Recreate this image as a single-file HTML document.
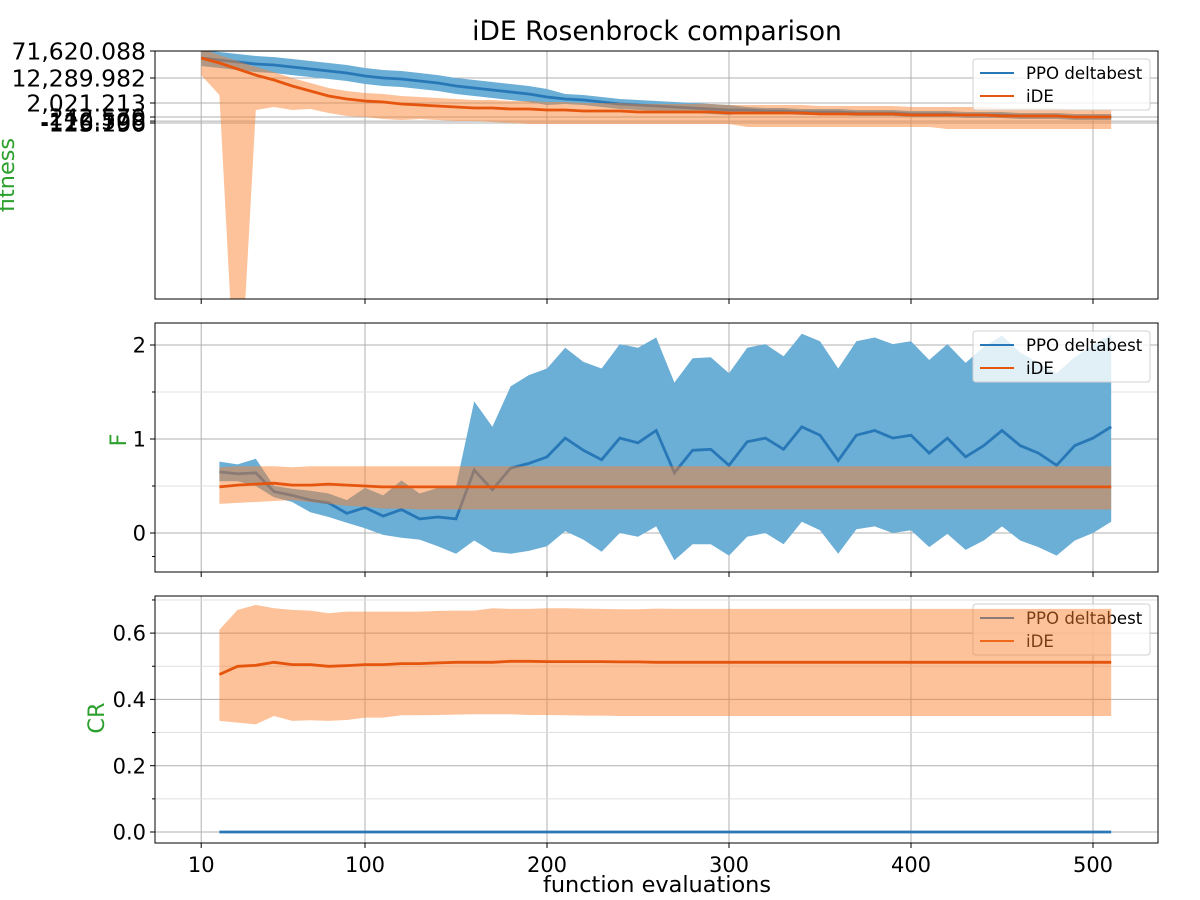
<!DOCTYPE html>
<html><head><meta charset="utf-8">
<style>
body{margin:0;background:#fff;}
svg{display:block;font-family:"DejaVu Sans","Liberation Sans",sans-serif;}
</style></head>
<body>
<svg id="chart" width="1200" height="900" xmlns="http://www.w3.org/2000/svg"></svg>
<script>
// ---------- data ----------
const fitX = [10,20,30,40,50,60,70,80,90,100,110,120,130,140,150,160,170,180,190,200,210,220,230,240,250,260,270,280,290,300,310,320,330,340,350,360,370,380,390,400,410,420,430,440,450,460,470,480,490,500,510];
const paramX = fitX.slice(1);
const fitTickValues = [71620.088,12289.982,2021.213,242.570,-110.598,-125.700,-126.196];
const fitTickLabels = ["71,620.088","12,289.982","2,021.213","242.570","-110.598","-125.700","-126.196"];
const xTicks = [10,100,200,300,400,500];
const fTicks = [0,1,2];
const crTicks = [0.0,0.2,0.4,0.6];

const ppoFitMean = [45300,39800,34900,30600,28700,25200,22100,19400,17000,14000,12290,11400,9900,8570,6900,5970,5170,4480,3870,3120,2700,2510,2170,1740,1490,1280,1100,950,815,700,700,600,600,517,517,517,444,444,444,381,381,381,328,328,328,282,282,282,242,242,242];
const ppoFitHigh = [76000,67100,58800,51600,48300,42400,37200,32700,28700,23600,20700,19400,17000,14900,12290,10600,9200,7980,6900,5560,3870,3600,3120,2700,2510,2340,2170,2021,1740,1490,1100,950,950,815,815,815,700,700,700,600,600,600,517,517,517,444,444,444,381,381,381];
const ppoFitLow = [26900,23600,20700,18100,17000,14900,13100,11400,9900,7980,6900,6420,5560,4810,3870,3350,2900,2510,2170,1490,1740,1490,1100,815,700,600,517,444,381,328,444,381,381,328,328,328,282,282,282,242,242,242,154,154,154,66,66,66,-22,-22,-22];
const ideFitMean = [45300,32700,22100,14900,10600,6900,4810,3350,2700,2340,2170,1740,1490,1280,1100,950,950,815,815,700,700,600,600,600,517,517,517,517,517,444,444,444,444,444,381,381,381,381,381,328,328,328,328,328,282,282,282,282,242,242,242];
const ideFitHigh = [85000,55000,37200,25200,18100,12290,8570,5970,4810,4170,3870,3350,3120,2900,2700,2510,2510,2340,2340,2170,2170,2021,2021,2021,1740,1740,1740,1740,1740,1490,1490,1490,1490,1490,1280,1280,1280,1280,1280,1100,1100,1100,1100,1100,950,950,950,950,815,815,815];
const ideFitLow = [14900,3600,-3500,700,1100,700,815,444,282,242,66,-22,66,-22,-110,-110,-118,-126,-137,-137,-137,-137,-137,-137,-137,-137,-137,-137,-137,-137,-169,-169,-169,-169,-169,-169,-169,-169,-169,-169,-169,-190,-190,-190,-190,-190,-190,-190,-190,-190,-190];

const ppoFMean = [0.65,0.63,0.64,0.44,0.40,0.35,0.32,0.21,0.27,0.18,0.25,0.15,0.17,0.15,0.67,0.46,0.69,0.74,0.81,1.01,0.88,0.78,1.01,0.96,1.09,0.64,0.88,0.89,0.72,0.97,1.01,0.89,1.13,1.04,0.77,1.04,1.09,1.01,1.04,0.85,1.01,0.81,0.93,1.09,0.93,0.85,0.72,0.93,1.01,1.13];
const ppoFLow = [0.55,0.55,0.50,0.38,0.33,0.22,0.17,0.11,0.05,-0.02,-0.05,-0.07,-0.14,-0.22,-0.08,-0.20,-0.22,-0.19,-0.14,0.02,-0.07,-0.20,0.00,-0.04,0.07,-0.29,-0.12,-0.12,-0.24,-0.04,0.0,-0.12,0.12,0.03,-0.22,0.04,0.07,0.0,0.03,-0.15,-0.01,-0.18,-0.08,0.07,-0.08,-0.15,-0.24,-0.08,0.0,0.12];
const ppoFHigh = [0.76,0.73,0.79,0.50,0.47,0.45,0.42,0.35,0.48,0.40,0.56,0.42,0.48,0.50,1.40,1.13,1.56,1.68,1.75,1.97,1.82,1.75,2.01,1.97,2.08,1.60,1.86,1.87,1.70,1.97,2.01,1.88,2.12,2.04,1.75,2.04,2.08,2.01,2.04,1.84,2.01,1.81,1.98,2.10,1.92,1.81,1.70,1.87,2.00,2.11];
const ideFMean = [0.49,0.51,0.52,0.53,0.51,0.51,0.52,0.51,0.50,0.49,0.49,0.49,0.49,0.49,0.49,0.49,0.49,0.49,0.49,0.49,0.49,0.49,0.49,0.49,0.49,0.49,0.49,0.49,0.49,0.49,0.49,0.49,0.49,0.49,0.49,0.49,0.49,0.49,0.49,0.49,0.49,0.49,0.49,0.49,0.49,0.49,0.49,0.49,0.49,0.49];
const ideFLow = [0.31,0.32,0.33,0.34,0.35,0.33,0.31,0.29,0.28,0.26,0.26,0.25,0.25,0.25,0.25,0.25,0.25,0.25,0.25,0.25,0.25,0.25,0.25,0.25,0.25,0.25,0.25,0.25,0.25,0.25,0.25,0.25,0.25,0.25,0.25,0.25,0.25,0.25,0.25,0.25,0.25,0.25,0.25,0.25,0.25,0.25,0.25,0.25,0.25,0.25];
const ideFHigh = [0.70,0.71,0.71,0.71,0.70,0.71,0.71,0.71,0.71,0.71,0.71,0.71,0.71,0.71,0.71,0.71,0.71,0.71,0.71,0.71,0.71,0.71,0.71,0.71,0.71,0.71,0.71,0.71,0.71,0.71,0.71,0.71,0.71,0.71,0.71,0.71,0.71,0.71,0.71,0.71,0.71,0.71,0.71,0.71,0.71,0.71,0.71,0.71,0.71,0.71];

const ppoCR = [0,0,0,0,0,0,0,0,0,0,0,0,0,0,0,0,0,0,0,0,0,0,0,0,0,0,0,0,0,0,0,0,0,0,0,0,0,0,0,0,0,0,0,0,0,0,0,0,0,0];
const ideCRMean = [0.475,0.50,0.503,0.512,0.505,0.505,0.50,0.502,0.505,0.505,0.508,0.508,0.51,0.512,0.512,0.512,0.515,0.515,0.514,0.514,0.514,0.514,0.513,0.513,0.512,0.512,0.512,0.512,0.512,0.512,0.512,0.512,0.512,0.512,0.512,0.512,0.512,0.512,0.512,0.512,0.512,0.512,0.512,0.512,0.512,0.512,0.512,0.512,0.512,0.512];
const ideCRHigh = [0.61,0.67,0.685,0.675,0.67,0.668,0.66,0.665,0.665,0.665,0.665,0.665,0.667,0.668,0.668,0.675,0.673,0.673,0.675,0.675,0.674,0.673,0.672,0.672,0.674,0.673,0.673,0.673,0.673,0.673,0.673,0.673,0.673,0.673,0.673,0.673,0.673,0.673,0.673,0.673,0.673,0.673,0.673,0.673,0.673,0.673,0.673,0.673,0.673,0.673];
const ideCRLow = [0.335,0.33,0.325,0.35,0.335,0.337,0.335,0.338,0.345,0.345,0.352,0.352,0.353,0.354,0.355,0.355,0.355,0.353,0.353,0.352,0.351,0.351,0.350,0.350,0.350,0.350,0.350,0.350,0.350,0.350,0.350,0.350,0.350,0.350,0.350,0.350,0.350,0.350,0.350,0.350,0.350,0.350,0.350,0.350,0.350,0.350,0.350,0.350,0.350,0.350];

// ---------- scales ----------
const L=155,R=1158;
const P1={t:51,b:299}, P2={t:323,b:572}, P3={t:596,b:843};
const xs = v => 365 + (v-100)*1.82;
function yFit(v){
  if (v >= 12290) return 78 - (Math.log10(v)-Math.log10(12290))*35.24;
  if (v >= 2021) return 103 - (Math.log10(v)-Math.log10(2021))*31.9;
  if (v >= 242) return 117 - (Math.log10(v)-Math.log10(242))*15.2;
  if (v >= -110) return 117 + (242-v)/88;
  if (v >= -126) return 121 + (-110-v)/8;
  return 123 + (-126-v)/10.65;
}
const yF = v => 533 - v*94;
const yCR = v => 832 - v*331.5;

const NS="http://www.w3.org/2000/svg";
const svg=document.getElementById('chart');
function el(tag, attrs, parent){
  const e=document.createElementNS(NS,tag);
  for(const k in attrs) e.setAttribute(k,attrs[k]);
  (parent||svg).appendChild(e);
  return e;
}
const BLUE="#2878b8", ORANGE="#e6550d";
const LW=2.8;

const defs=el('defs',{});
[P1,P2,P3].forEach((p,i)=>{
  const c=el('clipPath',{id:'clip'+i},defs);
  el('rect',{x:L,y:p.t,width:R-L,height:p.b-p.t},c);
});

function linePts(xsArr, ys, ysc){ return xsArr.map((x,i)=>xs(x).toFixed(1)+','+ysc(ys[i]).toFixed(1)).join(' '); }
function bandPts(xsArr, lo, hi, ysc){
  const a=xsArr.map((x,i)=>xs(x).toFixed(1)+','+ysc(hi[i]).toFixed(1));
  const b=xsArr.map((x,i)=>xs(x).toFixed(1)+','+ysc(lo[i]).toFixed(1)).reverse();
  return a.concat(b).join(' ');
}

function panelFrame(p, name){
  const g=el('g',{});
  
  
  xTicks.forEach(t=>{
    el('line',{x1:xs(t),x2:xs(t),y1:p.t,y2:p.b,stroke:'#b0b0b0','stroke-width':1},g);
    el('line',{x1:xs(t),x2:xs(t),y1:p.b,y2:p.b+5,stroke:'#000','stroke-width':1},g);
  });
  return g;
}
function axisBox(p, name){
  const r=el('rect',{x:L,y:p.t,width:R-L,height:p.b-p.t,fill:'none',stroke:'#000','stroke-width':1});
  
  
}
function yTick(y,label,g,fs){
  el('line',{x1:L-5,x2:L,y1:y,y2:y,stroke:'#000','stroke-width':1},g);
  if(label!==null){
    const t=el('text',{x:L-9,y:y+(fs||20)*0.36,'text-anchor':'end','font-size':fs||20,fill:'#000'},g);
    t.textContent=label;
  }
}
function legend(p){
  const g=el('g',{});
  
  
  const y0=p.t+8;
  el('rect',{x:973,y:y0,width:177,height:51,rx:3,fill:'rgba(255,255,255,0.8)',stroke:'#d0d0d0'},g);
  const e1=el('g',{},g);
  
  
  el('line',{x1:980,x2:1014,y1:y0+14,y2:y0+14,stroke:BLUE,'stroke-width':2},e1);
  const t1=el('text',{x:1026,y:y0+20,'font-size':16.6,fill:'#000'},e1); t1.textContent='PPO deltabest';
  const e2=el('g',{},g);
  
  
  el('line',{x1:980,x2:1014,y1:y0+37,y2:y0+37,stroke:ORANGE,'stroke-width':2},e2);
  const t2=el('text',{x:1026,y:y0+43,'font-size':16.6,fill:'#000'},e2); t2.textContent='iDE';
}

// ---------- panel 1: fitness ----------
panelFrame(P1,'fitness-panel');
const g1=el('g',{'clip-path':'url(#clip0)'});


fitTickValues.forEach(v=>{ el('line',{x1:L,x2:R,y1:yFit(v),y2:yFit(v),stroke:'#b0b0b0','stroke-width':1},g1); });
let s=el('polygon',{points:bandPts(fitX,ppoFitLow,ppoFitHigh,yFit),fill:'#6baed6'},g1);
 
s=el('polyline',{points:linePts(fitX,ppoFitMean,yFit),fill:'none',stroke:BLUE,'stroke-width':LW},g1);
 
s=el('polygon',{points:bandPts(fitX,ideFitLow,ideFitHigh,yFit),fill:'rgb(251,128,44)','fill-opacity':0.48},g1);
 
s=el('polyline',{points:linePts(fitX,ideFitMean,yFit),fill:'none',stroke:ORANGE,'stroke-width':LW},g1);
 
const ty1=el('g',{});
 
fitTickValues.forEach((v,i)=>yTick(yFit(v),fitTickLabels[i],ty1,23.5));
axisBox(P1,'fitness-panel');
legend(P1);

// ---------- panel 2: F ----------
panelFrame(P2,'f-panel');
const g2=el('g',{'clip-path':'url(#clip1)'});


[0.5,1.5].forEach(v=>el('line',{x1:L,x2:R,y1:yF(v),y2:yF(v),stroke:'#e0e0e0','stroke-width':1},g2));
fTicks.forEach(v=>el('line',{x1:L,x2:R,y1:yF(v),y2:yF(v),stroke:'#b0b0b0','stroke-width':1},g2));
s=el('polygon',{points:bandPts(paramX,ppoFLow,ppoFHigh,yF),fill:'#6baed6'},g2);
 
s=el('polyline',{points:linePts(paramX,ppoFMean,yF),fill:'none',stroke:BLUE,'stroke-width':LW},g2);
 
s=el('polygon',{points:bandPts(paramX,ideFLow,ideFHigh,yF),fill:'rgb(251,128,44)','fill-opacity':0.48},g2);
 
s=el('polyline',{points:linePts(paramX,ideFMean,yF),fill:'none',stroke:ORANGE,'stroke-width':LW},g2);
 
const ty2=el('g',{});
 
fTicks.forEach(v=>yTick(yF(v),String(v),ty2,21));
[-0.25,0.5,1.5].forEach(v=>el('line',{x1:L-3,x2:L,y1:yF(v),y2:yF(v),stroke:'#000'},ty2));
axisBox(P2,'f-panel');
legend(P2);

// ---------- panel 3: CR ----------
panelFrame(P3,'cr-panel');
const g3=el('g',{'clip-path':'url(#clip2)'});


[0.1,0.3,0.5,0.7].forEach(v=>el('line',{x1:L,x2:R,y1:yCR(v),y2:yCR(v),stroke:'#e0e0e0','stroke-width':1},g3));
crTicks.forEach(v=>el('line',{x1:L,x2:R,y1:yCR(v),y2:yCR(v),stroke:'#b0b0b0','stroke-width':1},g3));
s=el('polyline',{points:linePts(paramX,ppoCR,yCR),fill:'none',stroke:BLUE,'stroke-width':LW},g3);
 
legend(P3);
const g3b=el('g',{'clip-path':'url(#clip2)'});


s=el('polygon',{points:bandPts(paramX,ideCRLow,ideCRHigh,yCR),fill:'rgb(251,128,44)','fill-opacity':0.48},g3b);
 
s=el('polyline',{points:linePts(paramX,ideCRMean,yCR),fill:'none',stroke:ORANGE,'stroke-width':LW},g3b);
 
const ty3=el('g',{});
 
crTicks.forEach(v=>yTick(yCR(v),v.toFixed(1),ty3,21));
[0.1,0.3,0.5,0.7].forEach(v=>el('line',{x1:L-3,x2:L,y1:yCR(v),y2:yCR(v),stroke:'#000'},ty3));
axisBox(P3,'cr-panel');

const xl=el('g',{});
 
xTicks.forEach(t=>{ const tx=el('text',{x:xs(t),y:872,'text-anchor':'middle','font-size':21},xl); tx.textContent=String(t); });
</script>
<div style="position:absolute;left:0;top:0;width:1200px;height:900px;pointer-events:none;font-family:'DejaVu Sans','Liberation Sans',sans-serif;">
  <div style="position:absolute;left:0;width:1314px;top:16px;text-align:center;font-size:26.5px;">iDE Rosenbrock comparison</div>
  <div style="position:absolute;left:0;width:1314px;top:872px;text-align:center;font-size:22.4px;">function evaluations</div>
  <div style="position:absolute;left:-33px;top:162px;width:80px;text-align:center;font-size:22.4px;color:#2ca02c;transform:rotate(-90deg);">fitness</div>
  <div style="position:absolute;left:89px;top:427px;width:60px;text-align:center;font-size:22.4px;color:#2ca02c;transform:rotate(-90deg);">F</div>
  <div style="position:absolute;left:67px;top:705px;width:60px;text-align:center;font-size:22.4px;color:#2ca02c;transform:rotate(-90deg);">CR</div>
</div>
</body></html>
